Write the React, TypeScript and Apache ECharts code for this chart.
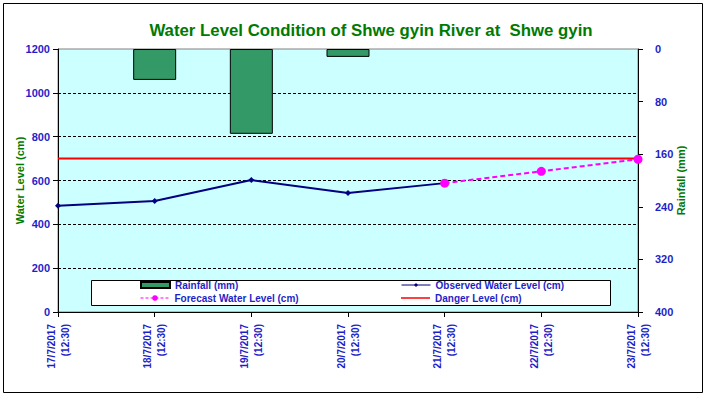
import React, { useEffect, useRef } from "react";
import * as echarts from "echarts";

const categories = [
  "17/7/2017\n(12:30)",
  "18/7/2017\n(12:30)",
  "19/7/2017\n(12:30)",
  "20/7/2017\n(12:30)",
  "21/7/2017\n(12:30)",
  "22/7/2017\n(12:30)",
  "23/7/2017\n(12:30)",
];
const rainfall = [null, 47, 129, 12, null, null, null];
const observed = [485, 506, 602, 543, 588, null, null];
const forecast = [null, null, null, null, 588, 642, 697];
const dangerLevel = [700, 700, 700, 700, 700, 700, 700];
const gridValues = [200, 400, 600, 800, 1000];

const BLUE = "#1f1fc8";
const GREEN = "#007a00";
const FONT = "Liberation Sans, Arial";

export default function App() {
  const ref = useRef<HTMLDivElement>(null);
  useEffect(() => {
    const chart = echarts.init(ref.current!, null, { renderer: "svg" });
    const legendText = {
      color: BLUE,
      fontSize: 10,
      fontWeight: "bold" as const,
      fontFamily: FONT,
    };
    const legendCommon = {
      itemWidth: 29,
      itemHeight: 7,
      selectedMode: false,
      textStyle: legendText,
      padding: 0,
      z: 10,
    };
    chart.setOption({
      animation: false,
      backgroundColor: "#ffffff",
      title: {
        text: "Water Level Condition of Shwe gyin River at  Shwe gyin",
        left: 366,
        top: 17,
        textAlign: "center",
        textStyle: {
          color: GREEN,
          fontSize: 16.8,
          fontWeight: "bold",
          fontFamily: FONT,
        },
      },
      graphic: [
        {
          type: "rect",
          shape: { x: 3.5, y: 3.5, width: 699, height: 389 },
          style: { fill: "none", stroke: "#000", lineWidth: 1 },
          z: 0,
        },
        {
          type: "rect",
          shape: { x: 91.5, y: 280.5, width: 519, height: 25 },
          style: { fill: "#ffffff", stroke: "#000", lineWidth: 1 },
          z: 9,
        },
      ],
      legend: [
        { ...legendCommon, left: 140, top: 280, itemHeight: 6, data: [{ name: "Rainfall (mm)", icon: "rect" }] },
        {
          ...legendCommon,
          left: 401,
          top: 280,
          itemHeight: 5,
          lineStyle: { width: 1 },
          data: ["Observed Water Level (cm)"],
        },
        {
          ...legendCommon,
          left: 140,
          top: 293,
          lineStyle: { width: 1, type: [3, 2] },
          data: ["Forecast Water Level (cm)"],
        },
        {
          ...legendCommon,
          left: 401,
          top: 293,
          itemHeight: 1.5,
          data: [
            {
              name: "Danger Level (cm)",
              icon: "rect",
              itemStyle: { color: "#ff0000", borderWidth: 0 },
            },
          ],
        },
      ],
      grid: {
        left: 58,
        right: 69,
        top: 49,
        bottom: 85,
        show: true,
        backgroundColor: "#ccffff",
        borderColor: "#808080",
        borderWidth: 1,
        outerBoundsMode: "none",
        containLabel: false,
      },
      xAxis: {
        type: "category",
        data: categories,
        boundaryGap: false,
        axisLine: { lineStyle: { color: "#000", width: 1 } },
        axisTick: { show: true, length: 5, lineStyle: { color: "#000" } },
        axisLabel: {
          rotate: 90,
          margin: 12,
          color: BLUE,
          fontSize: 10,
          fontWeight: "bold",
          fontFamily: FONT,
          lineHeight: 14,
          interval: 0,
        },
        splitLine: { show: false },
      },
      yAxis: [
        {
          type: "value",
          min: 0,
          max: 1200,
          interval: 200,
          position: "left",
          name: "Water Level (cm)",
          nameLocation: "middle",
          nameRotate: 90,
          nameGap: 33,
          nameMoveOverlap: false,
          nameTextStyle: {
            color: GREEN,
            fontSize: 11,
            fontWeight: "bold",
            fontFamily: FONT,
          },
          axisLine: { show: true, lineStyle: { color: "#000" } },
          axisTick: { show: true, length: 5, lineStyle: { color: "#000" } },
          axisLabel: {
            color: BLUE,
            fontSize: 11,
            fontWeight: "bold",
            fontFamily: FONT,
            margin: 8,
            formatter: (v: number) => String(v),
          },
          splitLine: { show: false },
        },
        {
          type: "value",
          min: 0,
          max: 400,
          interval: 80,
          inverse: true,
          position: "right",
          name: "Rainfall (mm)",
          nameLocation: "middle",
          nameRotate: 90,
          nameGap: 37,
          nameMoveOverlap: false,
          nameTextStyle: {
            color: GREEN,
            fontSize: 11,
            fontWeight: "bold",
            fontFamily: FONT,
          },
          axisLine: { show: true, lineStyle: { color: "#000" } },
          axisTick: { show: true, length: 5, lineStyle: { color: "#000" } },
          axisLabel: {
            color: BLUE,
            fontSize: 11,
            fontWeight: "bold",
            fontFamily: FONT,
            margin: 17,
            formatter: (v: number) => String(v),
          },
          splitLine: { show: false },
        },
      ],
      series: [
        {
          name: "Rainfall (mm)",
          type: "bar",
          yAxisIndex: 1,
          data: rainfall,
          barWidth: 43,
          itemStyle: { color: "#339966", borderColor: "#000", borderWidth: 1 },
          z: 3,
        },
        {
          name: "Danger Level (cm)",
          type: "line",
          data: dangerLevel,
          symbol: "none",
          lineStyle: { color: "#ff0000", width: 2 },
          itemStyle: { color: "#ff0000" },
          z: 4,
          markLine: {
            silent: true,
            symbol: "none",
            z: 1,
            label: { show: false },
            lineStyle: { color: "#000", type: [3, 2], width: 1 },
            data: gridValues.map((v) => ({ yAxis: v })),
          },
        },
        {
          name: "Observed Water Level (cm)",
          type: "line",
          data: observed,
          symbol: "diamond",
          symbolSize: 6,
          lineStyle: { color: "#000080", width: 2 },
          itemStyle: { color: "#000080" },
          z: 5,
        },
        {
          name: "Forecast Water Level (cm)",
          type: "line",
          data: forecast,
          symbol: "circle",
          symbolSize: 9,
          lineStyle: { color: "#ff00ff", width: 2, type: [5, 3] },
          itemStyle: { color: "#ff00ff" },
          z: 6,
        },
      ],
    });
    return () => chart.dispose();
  }, []);
  return (
    <div
      ref={ref}
      style={{ position: "fixed", left: 0, top: 0, width: 707, height: 397 }}
    />
  );
}
